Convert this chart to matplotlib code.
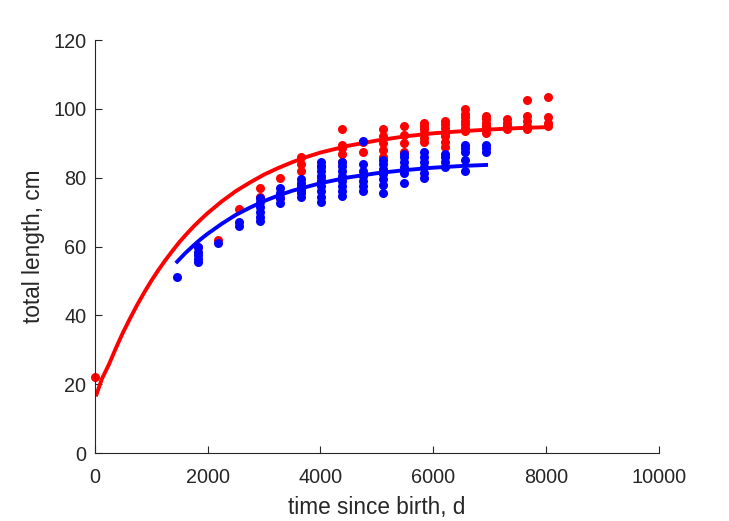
import numpy as np
import matplotlib
matplotlib.use("Agg")
import matplotlib.pyplot as plt

plt.rcParams['font.family'] = ['Liberation Sans', 'DejaVu Sans']

# observed lengths, red group (time since birth in days, length in cm)
red_t = [0, 1825, 2190, 2555, 2920, 2920, 3285, 3285,
         3650, 3650, 3650, 4015, 4015,
         4380, 4380, 4380, 4380, 4380, 4745, 4745,
         5110, 5110, 5110, 5110, 5110, 5475, 5475, 5475, 5475,
         5840, 5840, 5840, 5840, 5840, 5840,
         6205, 6205, 6205, 6205, 6205, 6205, 6205,
         6570, 6570, 6570, 6570, 6570, 6570, 6570,
         6935, 6935, 6935, 6935, 6935, 6935,
         7300, 7300, 7300, 7300, 7665, 7665, 7665, 7665, 7665,
         8030, 8030, 8030, 8030]
red_L = [22, 60, 62, 71, 74.5, 77, 74, 80,
         82, 84, 86, 80, 83,
         84.5, 87, 88.5, 89.5, 94, 87.5, 90.5,
         86, 88, 90, 92, 94, 87.5, 90, 92.5, 95,
         90.5, 91.5, 93, 94, 95, 96,
         89, 90.5, 92, 93, 94.5, 95.5, 96.5,
         93.5, 94.5, 95.5, 96.5, 97.5, 98.5, 100,
         93, 94, 95, 96, 97, 98,
         94, 95, 96, 97, 94, 95, 96.5, 98, 102.5,
         95, 96, 97.5, 103.5]

# observed lengths, blue group
blue_t = [1460, 1825, 1825, 1825, 1825, 1825, 2190, 2555, 2555,
          2920, 2920, 2920, 2920, 2920, 2920,
          3285, 3285, 3285, 3285,
          3650, 3650, 3650, 3650, 3650, 3650,
          4015, 4015, 4015, 4015, 4015, 4015, 4015, 4015, 4015,
          4380, 4380, 4380, 4380, 4380, 4380, 4380, 4380,
          4745, 4745, 4745, 4745, 4745, 4745, 4745,
          5110, 5110, 5110, 5110, 5110, 5110, 5110,
          5475, 5475, 5475, 5475, 5475, 5475,
          5840, 5840, 5840, 5840, 5840, 5840,
          6205, 6205, 6205, 6205,
          6570, 6570, 6570, 6570, 6570,
          6935, 6935, 6935]
blue_L = [51, 55.5, 56.5, 57.5, 58.5, 60, 61, 66, 67,
          67.5, 68.5, 70, 71.5, 73, 74,
          72.5, 74, 75.5, 77,
          74.5, 75.5, 76.5, 77.5, 78.5, 79.5,
          73, 74.5, 76, 77.5, 79, 80.5, 82, 83.5, 84.5,
          74.7, 76, 77.5, 79, 80.5, 82, 83.5, 84.5,
          76, 77.5, 79, 80.5, 82, 84, 90.7,
          75.6, 78, 79.5, 81, 82.5, 84, 85,
          78.5, 81.5, 83, 84.5, 86, 87,
          80, 81.5, 83, 84.5, 86, 87.5,
          83, 84.5, 86, 87,
          82, 85, 87.5, 88.5, 89.5,
          87.5, 88.5, 89.5]

# fitted growth curves
red_fit_t = [30, 125, 250, 375, 500, 625, 750, 875, 1000, 1125, 1250, 1375,
             1500, 1625, 1750, 1875, 2000, 2250, 2500, 2750, 3000, 3250,
             3500, 3750, 4000, 4500, 5000, 5500, 6000, 6500, 7000, 7500, 8030]
red_fit_L = [17.0, 21.5, 25.7, 30.5, 35.0, 39.1, 43.0, 46.6, 50.0, 53.1,
             56.0, 58.7, 61.3, 63.6, 65.8, 67.8, 69.7, 73.1, 76.1, 78.6,
             80.9, 82.8, 84.5, 86.0, 87.3, 89.3, 90.8, 92.0, 92.9, 93.5,
             94.0, 94.4, 94.7]

blue_fit_t = [1460, 1600, 1750, 1875, 2000, 2250, 2500, 2750, 3000, 3250,
              3500, 4000, 4500, 5000, 5500, 6000, 6500, 6935]
blue_fit_L = [55.6, 58.0, 60.3, 62.1, 63.7, 66.6, 69.2, 71.3, 73.2, 74.8,
              76.2, 78.4, 80.1, 81.3, 82.2, 82.9, 83.4, 83.7]

fig = plt.figure(figsize=(7.29, 5.21), dpi=100)
ax = fig.add_axes([0.130, 0.1305, 0.774, 0.7927])

ax.plot(red_t, red_L, 'o', color='red', markersize=6.5, markeredgewidth=0,
        clip_on=False)
ax.plot(red_fit_t, red_fit_L, '-', color='red', linewidth=2.8)
ax.plot(blue_t, blue_L, 'o', color='blue', markersize=6.5, markeredgewidth=0,
        clip_on=False)
ax.plot(blue_fit_t, blue_fit_L, '-', color='blue', linewidth=2.8)

ax.set_xlim(0, 10000)
ax.set_ylim(0, 120)
ax.set_xticks(np.arange(0, 10001, 2000))
ax.set_yticks(np.arange(0, 121, 20))

grey = '#262626'
for side in ['top', 'right']:
    ax.spines[side].set_visible(False)
for side in ['left', 'bottom']:
    ax.spines[side].set_color(grey)
    ax.spines[side].set_linewidth(0.8)
ax.tick_params(direction='in', length=5, width=0.8, colors=grey,
               labelsize=14.3)
ax.tick_params(axis='x', pad=11)
ax.tick_params(axis='y', pad=6)

ax.set_xlabel('time since birth, d', fontsize=16.3, color=grey, labelpad=6)
ax.set_ylabel('total length, cm', fontsize=16.3, color=grey, labelpad=6)

plt.savefig('out.png', dpi=100)
